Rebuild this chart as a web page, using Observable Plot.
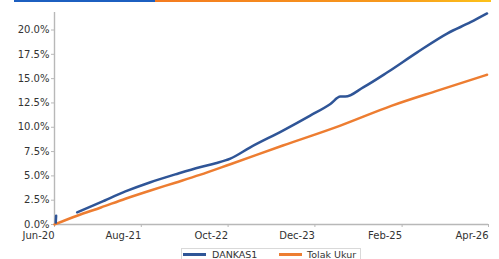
<!DOCTYPE html>
<html>
<head>
<meta charset="utf-8">
<script src="https://cdn.jsdelivr.net/npm/d3@7"></script>
<script src="https://cdn.jsdelivr.net/npm/@observablehq/plot@0.6"></script>
<style>
  body { margin: 0; background: #fff; font-family: "DejaVu Sans", sans-serif; }
  #wrap { position: relative; width: 499px; height: 259px; overflow: hidden; }
  #bar { position: absolute; top: 0; left: 14px; width: 477px; height: 2px; z-index: 2;
    background: linear-gradient(to right, #1c5fc0 0%, #1c5fc0 29.5%, #f47b20 29.5%, #f79a1c 80%, #fcc21a 100%); }
  #legend { position: absolute; top: 248px; left: 181px; width: 180px; height: 20px;
    border: 1px solid #d9d9d9; box-sizing: border-box; font-size: 9.5px; line-height: 11px; color: #333; }
  .item { position: absolute; top: 0px; white-space: nowrap; }
  .sw { position: absolute; top: 4px; width: 23px; height: 3px; }
</style>
</head>
<body>
<div id="wrap">
  <div id="bar"></div>
  <div id="chart"></div>
  <div id="legend"></div>
</div>
<script>
const seriesNames = ["DANKAS1", "Tolak Ukur"];
const seriesColors = ["#2f5597", "#ed7d31"];

// DANKAS1 (blue); null = gap in the line
const dankasDates = ["2020-06-07", "2020-06-09", "2020-07-15", "2020-09-20", "2021-01-15", "2021-05-15", "2021-09-15",
  "2022-01-15", "2022-05-15", "2022-08-01", "2022-10-12", "2023-01-18", "2023-06-27", "2023-11-08",
  "2024-02-15", "2024-04-04", "2024-04-28", "2024-07-25", "2024-11-21", "2025-04-16", "2025-09-12",
  "2026-01-03", "2026-03-25"];
const dankasValues = [0.2, 0.9, null, 1.25, 2.3, 3.4, 4.35,
  5.15, 5.89, 6.3, 6.78, 7.94, 9.66, 11.2,
  12.4, 13.15, 13.15, 14.1, 15.65, 17.7, 19.66,
  20.8, 21.7];

// Tolak Ukur (orange)
const tolakDates = ["2020-06-01", "2020-09-20", "2021-01-15", "2021-05-15", "2021-09-15", "2022-01-15",
  "2022-05-15", "2022-10-12", "2023-06-27", "2024-04-04", "2024-12-10", "2025-07-25", "2026-03-25"];
const tolakValues = [0, 0.9, 1.75, 2.65, 3.5, 4.3, 5.1, 6.2, 8.12, 10.17, 12.2, 13.77, 15.4];

const xTickLabels = ["2020-06-01", "2021-08-01", "2022-10-01", "2023-12-01", "2025-02-01", "2026-04-01"];
const yTicks = [0, 2.5, 5, 7.5, 10, 12.5, 15, 17.5, 20];

const parse = d3.utcParse("%Y-%m-%d");
const dankas = dankasDates.map((d, i) => ({date: parse(d), v: dankasValues[i] == null ? NaN : dankasValues[i] / 100}));
const tolak = tolakDates.map((d, i) => ({date: parse(d), v: tolakValues[i] / 100}));
const xTicks = xTickLabels.map(parse);

const axisColor = "#b8b8b8";

const chart = Plot.plot({
  width: 499,
  height: 248,
  marginLeft: 54,
  marginRight: 11,
  marginTop: 12,
  marginBottom: 24,
  style: {fontFamily: "DejaVu Sans, sans-serif", fontSize: "10px", color: "#333", background: "transparent"},
  x: {type: "utc", domain: [parse("2020-06-01"), parse("2026-04-01")]},
  y: {domain: [0, 0.218]},
  marks: [
    Plot.ruleX([parse("2020-06-01")], {stroke: axisColor, strokeWidth: 1.4}),
    Plot.ruleY([0], {stroke: axisColor, strokeWidth: 1.4}),
    Plot.axisY({ticks: yTicks.map(t => t / 100), tickFormat: d3.format(".1%"), tickSize: 3, tickPadding: 2,
      stroke: axisColor, fill: "#333", label: null}),
    Plot.axisX({ticks: xTicks, tickFormat: d3.utcFormat("%b-%y"), tickSize: 3, tickPadding: 4,
      textAnchor: "end", stroke: axisColor, fill: "#333", label: null}),
    Plot.line(tolak, {x: "date", y: "v", stroke: seriesColors[1], strokeWidth: 2.5, curve: "monotone-x"}),
    Plot.line(dankas, {x: "date", y: "v", stroke: seriesColors[0], strokeWidth: 2.5, curve: "monotone-x"})
  ]
});
document.getElementById("chart").appendChild(chart);

const legend = document.getElementById("legend");
const swLeft = [1, 97];
const txtLeft = [30, 125];
seriesNames.forEach((name, i) => {
  const sw = document.createElement("div");
  sw.className = "sw";
  sw.style.left = swLeft[i] + "px";
  sw.style.background = seriesColors[i];
  legend.appendChild(sw);
  const t = document.createElement("div");
  t.className = "item";
  t.style.left = txtLeft[i] + "px";
  t.textContent = name;
  legend.appendChild(t);
});
</script>
</body>
</html>
